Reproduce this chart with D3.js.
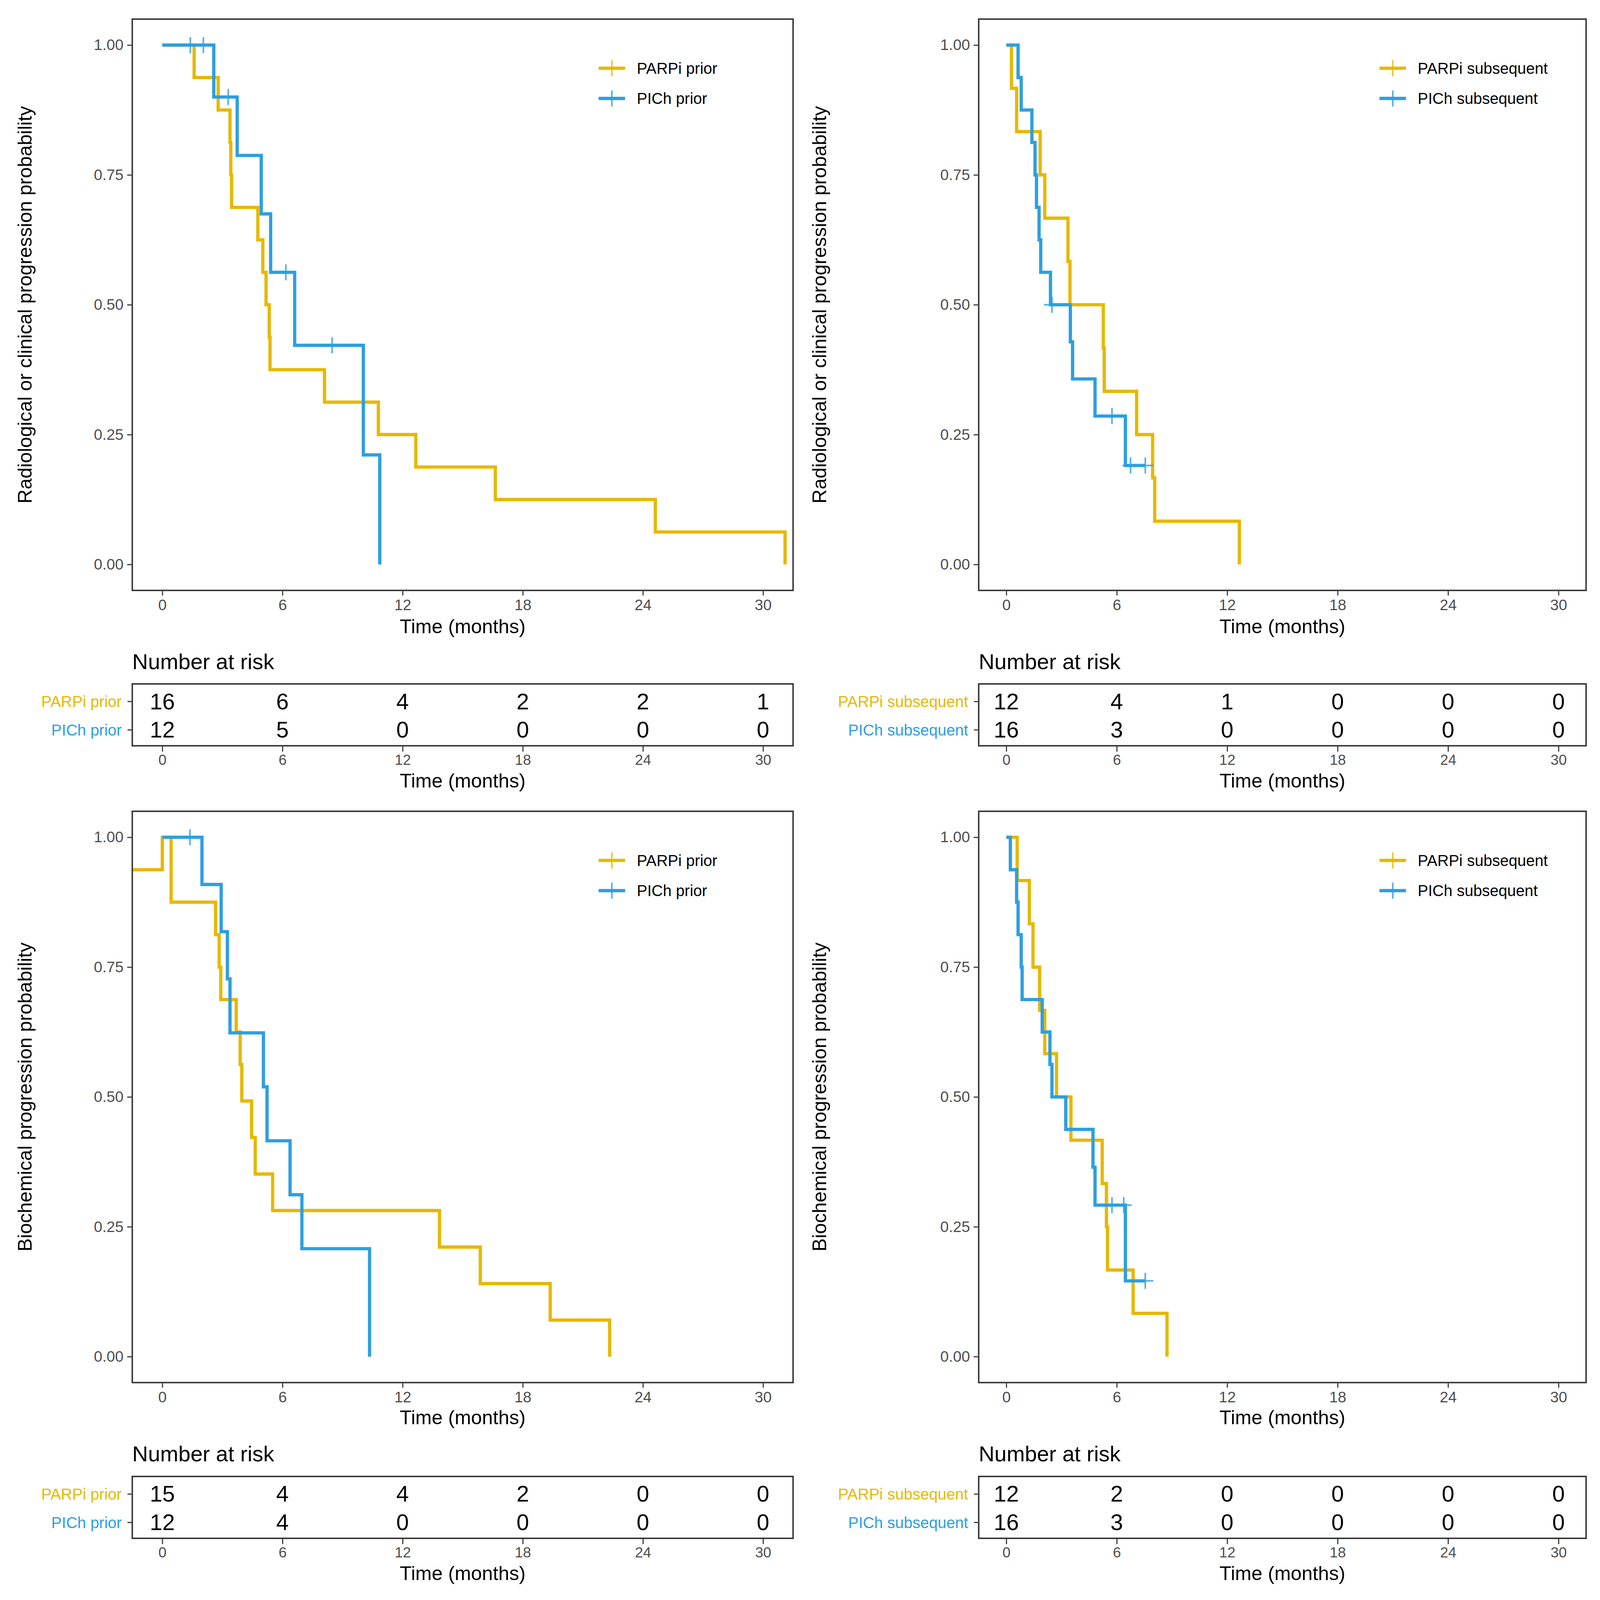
<!DOCTYPE html>
<html>
<head>
<meta charset="utf-8">
<script src="https://cdn.jsdelivr.net/npm/d3@7"></script>
<style>
  html, body { margin: 0; padding: 0; background: #ffffff; overflow: hidden; }
  svg { display: block; width: 100vw; height: 100vh; font-family: "Liberation Sans", Arial, Helvetica, sans-serif; }
</style>
</head>
<body>
<svg id="chart" viewBox="0 0 4397 4386" preserveAspectRatio="xMidYMid meet"></svg>
<script>
// ---------------- DATA ----------------
const timeTicks = [0, 6, 12, 18, 24, 30];
const survTicks = [0, 0.25, 0.5, 0.75, 1];
const groupColors = ["#E7B800", "#2E9FDF"];
const timeLabel = "Time (months)";
const riskTitle = "Number at risk";

// Panel A: radiological or clinical progression, prior
const radPriorLabels = ["PARPi prior", "PICh prior"];
const radPriorPARPi = [[0,1],[1.59,0.9375],[2.79,0.875],[3.38,0.8125],[3.42,0.75],[3.46,0.6875],[4.77,0.625],[5.02,0.5625],[5.18,0.5],[5.34,0.4375],[5.38,0.375],[8.1,0.3125],[10.79,0.25],[12.66,0.1875],[16.63,0.125],[24.62,0.0625],[31.1,0]];
const radPriorPARPiCensor = [];
const radPriorPICh = [[0,1],[2.57,0.9],[3.74,0.7875],[4.94,0.675],[5.41,0.5625],[6.61,0.4219],[10.04,0.2109],[10.86,0]];
const radPriorPIChCensor = [[1.40,1],[2.05,1],[3.29,0.9],[6.17,0.5625],[8.48,0.4219]];
const radPriorRiskPARPi = [16, 6, 4, 2, 2, 1];
const radPriorRiskPICh = [12, 5, 0, 0, 0, 0];

// Panel B: radiological or clinical progression, subsequent
const radSubLabels = ["PARPi subsequent", "PICh subsequent"];
const radSubPARPi = [[0,1],[0.28,0.9167],[0.56,0.8333],[1.84,0.75],[2.09,0.6667],[3.35,0.5833],[3.46,0.5],[5.27,0.4167],[5.32,0.3333],[7.08,0.25],[7.95,0.1667],[8.06,0.0833],[12.66,0]];
const radSubPARPiCensor = [];
const radSubPICh = [[0,1],[0.64,0.9375],[0.81,0.875],[1.39,0.8125],[1.56,0.75],[1.64,0.6875],[1.78,0.625],[1.87,0.5625],[2.4,0.5],[3.48,0.4286],[3.6,0.3571],[4.82,0.2857],[6.47,0.1905],[7.55,0.1905]];
const radSubPIChCensor = [[2.48,0.5],[5.74,0.2857],[6.75,0.1905],[7.55,0.1905]];
const radSubRiskPARPi = [12, 4, 1, 0, 0, 0];
const radSubRiskPICh = [16, 3, 0, 0, 0, 0];

// Panel C: biochemical progression, prior
const bioPriorLabels = ["PARPi prior", "PICh prior"];
const bioPriorPARPi = [[-1.5,0.9375],[0,1],[0.44,0.875],[2.66,0.8125],[2.84,0.75],[2.92,0.6875],[3.69,0.625],[3.89,0.5625],[3.97,0.4922],[4.46,0.4219],[4.64,0.3516],[5.51,0.2812],[13.84,0.2109],[15.88,0.1406],[19.37,0.0703],[22.34,0]];
const bioPriorPARPiCensor = [];
const bioPriorPICh = [[0,1],[1.98,0.9091],[2.94,0.8182],[3.25,0.7273],[3.38,0.6234],[5.05,0.5195],[5.23,0.4156],[6.38,0.3117],[6.97,0.2078],[10.35,0]];
const bioPriorPIChCensor = [[1.38,1]];
const bioPriorRiskPARPi = [15, 4, 4, 2, 0, 0];
const bioPriorRiskPICh = [12, 4, 0, 0, 0, 0];

// Panel D: biochemical progression, subsequent
const bioSubLabels = ["PARPi subsequent", "PICh subsequent"];
const bioSubPARPi = [[0,1],[0.59,0.9167],[1.25,0.8333],[1.45,0.75],[1.81,0.6667],[2.09,0.5833],[2.73,0.5],[3.51,0.4167],[5.21,0.3333],[5.44,0.25],[5.5,0.1667],[6.89,0.0833],[8.73,0]];
const bioSubPARPiCensor = [];
const bioSubPICh = [[0,1],[0.22,0.9375],[0.56,0.875],[0.64,0.8125],[0.81,0.75],[0.86,0.6875],[1.95,0.625],[2.37,0.5625],[2.48,0.5],[3.23,0.4375],[4.71,0.3646],[4.82,0.2917],[6.47,0.1458],[7.55,0.1458]];
const bioSubPIChCensor = [[5.74,0.2917],[6.38,0.2917],[7.55,0.1458]];
const bioSubRiskPARPi = [12, 2, 0, 0, 0, 0];
const bioSubRiskPICh = [16, 3, 0, 0, 0, 0];

const yTitleRad = "Radiological or clinical progression probability";
const yTitleBio = "Biochemical progression probability";

// ---------------- LAYOUT ----------------
const cols = [
  { left: 363.5, right: 2179.5, yTitleX: 68, legendX: 1645 },
  { left: 2689.6, right: 4358.8, yTitleX: 2252, legendX: 3791 }
];
const rows = [
  { top: 47, bottom: 1617, timeTitleY: 1716, riskTitleY: 1812, tTop: 1874, tBottom: 2044, r1: 1922, r2: 2000, tTimeY: 2140 },
  { top: 2224, bottom: 3794, timeTitleY: 3890, riskTitleY: 3990, tTop: 4052, tBottom: 4222, r1: 4100, r2: 4178, tTimeY: 4318 }
];

const panels = [
  { col: 0, row: 0, yTitle: yTitleRad, labels: radPriorLabels, curves: [radPriorPARPi, radPriorPICh], censors: [radPriorPARPiCensor, radPriorPIChCensor], risks: [radPriorRiskPARPi, radPriorRiskPICh] },
  { col: 1, row: 0, yTitle: yTitleRad, labels: radSubLabels, curves: [radSubPARPi, radSubPICh], censors: [radSubPARPiCensor, radSubPIChCensor], risks: [radSubRiskPARPi, radSubRiskPICh] },
  { col: 0, row: 1, yTitle: yTitleBio, labels: bioPriorLabels, curves: [bioPriorPARPi, bioPriorPICh], censors: [bioPriorPARPiCensor, bioPriorPIChCensor], risks: [bioPriorRiskPARPi, bioPriorRiskPICh] },
  { col: 1, row: 1, yTitle: yTitleBio, labels: bioSubLabels, curves: [bioSubPARPi, bioSubPICh], censors: [bioSubPARPiCensor, bioSubPIChCensor], risks: [bioSubRiskPARPi, bioSubRiskPICh] }
];

const svg = d3.select("#chart");
svg.append("rect").attr("width", 4397).attr("height", 4386).attr("fill", "#ffffff");

const BORDER = "#333333";
const TICKTXT = "#4D4D4D";
const LINEW = 9;

function styleAxis(g, fontSize, color) {
  g.select(".domain").remove();
  g.selectAll(".tick line").attr("stroke", BORDER).attr("stroke-width", 3);
  g.selectAll(".tick text").attr("fill", color).attr("font-size", fontSize)
    .attr("font-family", "Liberation Sans, Arial, sans-serif");
}

function plusPath(cx, cy, s) {
  return `M${cx - s},${cy}H${cx + s}M${cx},${cy - s}V${cy + s}`;
}

panels.forEach((p, pi) => {
  const c = cols[p.col], r = rows[p.row];
  const x = d3.scaleLinear().domain([-1.5, 31.5]).range([c.left, c.right]);
  const y = d3.scaleLinear().domain([-0.05, 1.05]).range([r.bottom, r.top]);
  const g = svg.append("g");

  const clipId = "clip" + pi;
  svg.append("clipPath").attr("id", clipId).append("rect")
    .attr("x", c.left).attr("y", r.top).attr("width", c.right - c.left).attr("height", r.bottom - r.top);

  const line = d3.line().x(d => x(d[0])).y(d => y(d[1])).curve(d3.curveStepAfter);
  const plot = g.append("g").attr("clip-path", `url(#${clipId})`);
  p.curves.forEach((cv, i) => {
    plot.append("path").datum(cv).attr("d", line)
      .attr("fill", "none").attr("stroke", groupColors[i]).attr("stroke-width", LINEW)
      .attr("stroke-linejoin", "miter").attr("stroke-linecap", "butt");
  });
  p.censors.forEach((cs, i) => {
    plot.selectAll(null).data(cs).enter().append("path")
      .attr("d", d => plusPath(x(d[0]), y(d[1]), 22))
      .attr("fill", "none").attr("stroke", groupColors[i]).attr("stroke-width", 4.5).attr("opacity", 0.8);
  });

  // border
  g.append("rect").attr("x", c.left).attr("y", r.top).attr("width", c.right - c.left).attr("height", r.bottom - r.top)
    .attr("fill", "none").attr("stroke", BORDER).attr("stroke-width", 4);

  // axes
  const ya = g.append("g").attr("transform", `translate(${c.left - 2},0)`)
    .call(d3.axisLeft(y).tickValues(survTicks).tickFormat(d3.format(".2f")).tickSize(12).tickPadding(10));
  styleAxis(ya, 42, TICKTXT);
  const xa = g.append("g").attr("transform", `translate(0,${r.bottom + 2})`)
    .call(d3.axisBottom(x).tickValues(timeTicks).tickFormat(d3.format("d")).tickSize(12).tickPadding(10));
  styleAxis(xa, 42, TICKTXT);

  // titles
  g.append("text").attr("x", (c.left + c.right) / 2).attr("y", r.timeTitleY)
    .attr("text-anchor", "middle").attr("dominant-baseline", "central")
    .attr("font-size", 54).attr("fill", "#000").text(timeLabel);
  g.append("text").attr("transform", `translate(${c.yTitleX},${(y(0) + y(1)) / 2}) rotate(-90)`)
    .attr("text-anchor", "middle").attr("dominant-baseline", "central")
    .attr("font-size", 54).attr("fill", "#000").text(p.yTitle);

  // legend
  const legRows = [r.top + 135, r.top + 218];
  p.labels.forEach((lab, i) => {
    const lg = g.append("g");
    lg.append("line").attr("x1", c.legendX).attr("x2", c.legendX + 73)
      .attr("y1", legRows[i]).attr("y2", legRows[i])
      .attr("stroke", groupColors[i]).attr("stroke-width", LINEW);
    lg.append("path").attr("d", plusPath(c.legendX + 36.5, legRows[i], 22))
      .attr("stroke", groupColors[i]).attr("stroke-width", 4.5).attr("fill", "none").attr("opacity", 0.8);
    lg.append("text").attr("x", c.legendX + 105).attr("y", legRows[i])
      .attr("dominant-baseline", "central").attr("font-size", 43).attr("fill", "#000").text(lab);
  });

  // risk table
  const tg = svg.append("g");
  tg.append("text").attr("x", c.left).attr("y", r.riskTitleY).attr("dominant-baseline", "central")
    .attr("font-size", 60).attr("fill", "#000").text(riskTitle);
  tg.append("rect").attr("x", c.left).attr("y", r.tTop).attr("width", c.right - c.left).attr("height", r.tBottom - r.tTop)
    .attr("fill", "none").attr("stroke", BORDER).attr("stroke-width", 4);
  const rowY = d3.scaleOrdinal().domain(p.labels).range([r.r1, r.r2]);
  const ra = tg.append("g").attr("transform", `translate(${c.left - 2},0)`)
    .call(d3.axisLeft(rowY).tickSize(11).tickPadding(16));
  styleAxis(ra, 43, TICKTXT);
  ra.selectAll(".tick text").attr("fill", (d, i) => groupColors[i]).attr("dy", "0.36em");
  p.risks.forEach((arr, i) => {
    tg.selectAll(null).data(arr).enter().append("text")
      .attr("x", (d, k) => x(timeTicks[k])).attr("y", rowY(p.labels[i]))
      .attr("text-anchor", "middle").attr("dominant-baseline", "central")
      .attr("font-size", 62).attr("fill", "#000").text(d => d);
  });
  const ta = tg.append("g").attr("transform", `translate(0,${r.tBottom + 2})`)
    .call(d3.axisBottom(x).tickValues(timeTicks).tickFormat(d3.format("d")).tickSize(14).tickPadding(8));
  styleAxis(ta, 40, TICKTXT);
  tg.append("text").attr("x", (c.left + c.right) / 2).attr("y", r.tTimeY)
    .attr("text-anchor", "middle").attr("dominant-baseline", "central")
    .attr("font-size", 54).attr("fill", "#000").text(timeLabel);
});
</script>
</body>
</html>
